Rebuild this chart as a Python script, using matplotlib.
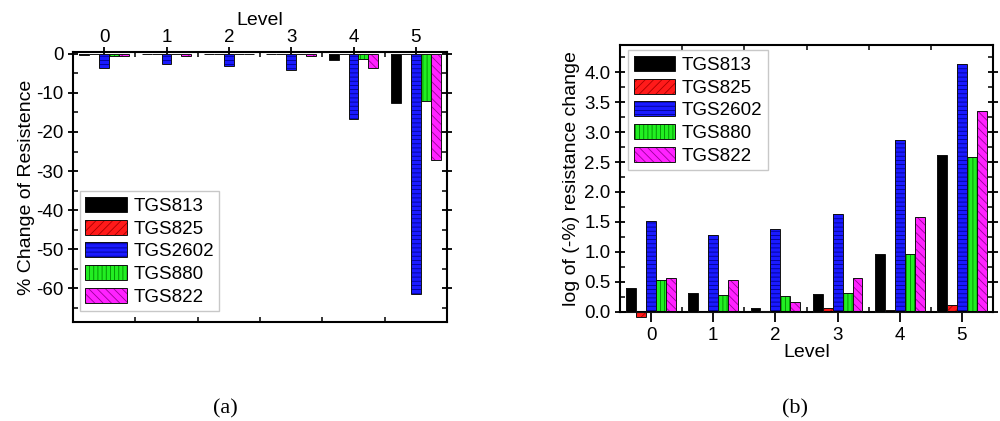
import matplotlib
matplotlib.use("Agg")
import matplotlib.pyplot as plt
import numpy as np
from matplotlib.ticker import MultipleLocator, FixedLocator, FormatStrFormatter

plt.rcParams["font.family"] = ["Liberation Sans", "DejaVu Sans"]
plt.rcParams["hatch.linewidth"] = 0.6
plt.rcParams["axes.unicode_minus"] = False

levels = [0, 1, 2, 3, 4, 5]
sensors = ["TGS813", "TGS825", "TGS2602", "TGS880", "TGS822"]

# (a) % change of resistance per level
pct_tgs813 = [-0.3, -0.05, 0.0, -0.05, -1.5, -12.7]
pct_tgs825 = [-0.05, 0.0, 0.0, 0.0, -0.05, -0.05]
pct_tgs2602 = [-3.6, -2.6, -3.0, -4.2, -16.6, -61.3]
pct_tgs880 = [-0.5, -0.1, -0.05, -0.1, -1.3, -12.1]
pct_tgs822 = [-0.6, -0.5, -0.05, -0.5, -3.7, -27.2]

# (b) log of (-%) resistance change
log_tgs813 = [0.40, 0.31, 0.07, 0.30, 0.97, 2.62]
log_tgs825 = [-0.09, 0.0, 0.01, 0.07, 0.04, 0.11]
log_tgs2602 = [1.52, 1.28, 1.38, 1.64, 2.87, 4.14]
log_tgs880 = [0.54, 0.28, 0.27, 0.32, 0.96, 2.58]
log_tgs822 = [0.56, 0.53, 0.17, 0.56, 1.59, 3.35]

pct_data = [pct_tgs813, pct_tgs825, pct_tgs2602, pct_tgs880, pct_tgs822]
log_data = [log_tgs813, log_tgs825, log_tgs2602, log_tgs880, log_tgs822]

fill_colors = ["#000000", "#ff1a1a", "#1a1aff", "#22ee22", "#ff22ff"]
hatch_colors = ["#000000", "#aa0000", "#000090", "#008800", "#990099"]
hatches = ["", "////", "----", "||||", "\\\\\\\\"]

bar_w = 0.16
offsets = [-2, -1, 0, 1, 2]


def draw_bars(ax, data):
    x = np.array(levels, dtype=float)
    handles = []
    for i, vals in enumerate(data):
        xs = x + offsets[i] * bar_w
        b1 = ax.bar(xs, vals, width=bar_w, color=fill_colors[i],
                    edgecolor=hatch_colors[i], hatch=hatches[i], linewidth=0,
                    clip_on=False, zorder=2)
        b2 = ax.bar(xs, vals, width=bar_w, fill=False, edgecolor="#111111",
                    linewidth=0.7, clip_on=False, zorder=3)
        handles.append((b1, b2))
    return handles


def style_axes(ax):
    for s in ax.spines.values():
        s.set_linewidth(1.5)
    ax.xaxis.set_minor_locator(FixedLocator([0.5, 1.5, 2.5, 3.5, 4.5]))
    ax.tick_params(which="major", direction="inout", length=7, width=1.3,
                   labelsize=13.5)
    ax.tick_params(which="minor", direction="in", length=3.5, width=1.1)
    ax.tick_params(axis="x", which="minor", top=True, bottom=True)
    ax.tick_params(axis="y", which="both", left=True, right=True)


def add_legend(ax, handles, loc, anchor):
    leg = ax.legend(handles, sensors, loc=loc, bbox_to_anchor=anchor,
                    fontsize=13.5, frameon=True, fancybox=False,
                    edgecolor="#bbbbbb", handlelength=2.2, handleheight=0.85,
                    labelspacing=0.25, handletextpad=0.35, borderpad=0.3,
                    borderaxespad=0)
    leg.get_frame().set_linewidth(1.0)
    return leg


fig = plt.figure(figsize=(10, 4.21), dpi=100)

# ---- panel (a) ----
ax1 = fig.add_axes([0.073, 0.235, 0.374, 0.641])
h1 = draw_bars(ax1, pct_data)
ax1.set_xlim(-0.5, 5.5)
ax1.set_ylim(-68.6, 0.4)
ax1.set_xticks(levels)
ax1.xaxis.tick_top()
ax1.xaxis.set_label_position("top")
ax1.set_yticks([0, -10, -20, -30, -40, -50, -60])
ax1.yaxis.set_minor_locator(MultipleLocator(5))
style_axes(ax1)
ax1.tick_params(axis="x", which="major", top=True, bottom=False, pad=1)
ax1.tick_params(axis="x", which="minor", top=True, bottom=True)
ax1.set_xlabel("Level", fontsize=14, labelpad=3)
ax1.set_ylabel("% Change of Resistence", fontsize=14, labelpad=1)
add_legend(ax1, h1, "lower left", (0.018, 0.04))

# ---- panel (b) ----
ax2 = fig.add_axes([0.62, 0.259, 0.373, 0.634])
h2 = draw_bars(ax2, log_data)
ax2.set_xlim(-0.5, 5.5)
ax2.set_ylim(0, 4.45)
ax2.set_xticks(levels)
ax2.set_yticks(np.arange(0, 4.01, 0.5))
ax2.yaxis.set_major_formatter(FormatStrFormatter("%.1f"))
ax2.yaxis.set_minor_locator(MultipleLocator(0.25))
style_axes(ax2)
ax2.tick_params(axis="x", which="major", direction="out", top=False, bottom=True)
ax2.set_xlabel("Level", fontsize=14, labelpad=0)
ax2.set_ylabel("log of (-%) resistance change", fontsize=14, labelpad=3)
add_legend(ax2, h2, "upper left", (0.022, 0.98))

fig.text(0.225, 0.03, "(a)", fontsize=16, ha="center", va="center",
         family=["Liberation Serif", "DejaVu Serif"])
fig.text(0.795, 0.03, "(b)", fontsize=16, ha="center", va="center",
         family=["Liberation Serif", "DejaVu Serif"])

fig.savefig("out.png", dpi=100)
